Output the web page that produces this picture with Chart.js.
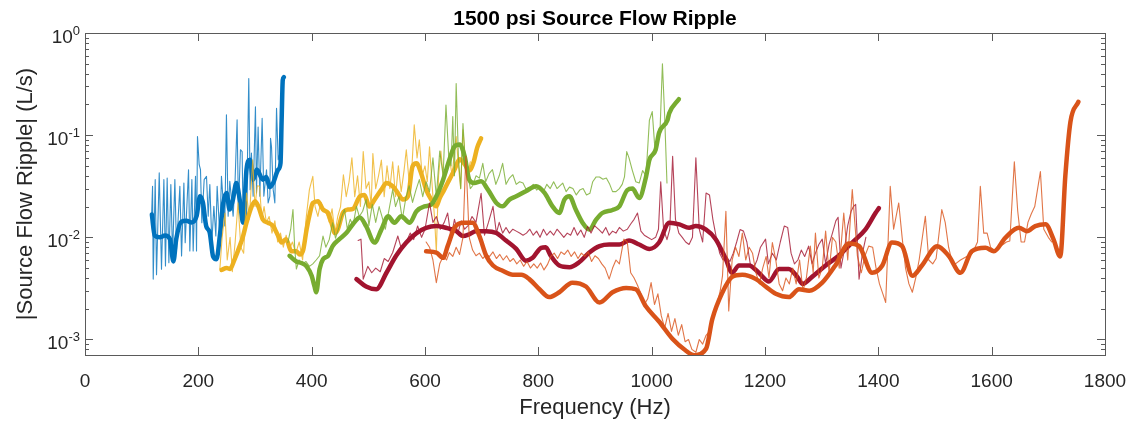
<!DOCTYPE html>
<html>
<head>
<meta charset="utf-8">
<title>1500 psi Source Flow Ripple</title>
<script src="https://cdn.jsdelivr.net/npm/chart.js@4.4.1/dist/chart.umd.min.js"></script>
<style>
  html, body { margin: 0; padding: 0; background: #fff; }
  #wrap { width: 1137px; height: 421px; }
</style>
</head>
<body>
<div id="wrap"><canvas id="rippleChart" width="1137" height="421"></canvas></div>
<script>
// [frequency Hz, |Q| L/s]
const blueThin = [[117.5,0.0161],[119.2,0.0316],[120.4,0.0039],[123.9,0.0367],[126.2,0.0043],[131,0.0427],[135,0.00487],[139.2,0.0367],[142,0.00524],[145,0.0381],[148,0.00565],[151.5,0.0328],[154.5,0.00656],[158.6,0.0367],[161.5,0.0076],[167.4,0.0316],[170.4,0.00656],[174.5,0.034],[176.8,0.00885],[182.7,0.0459],[185,0.00734],[188.6,0.0367],[190.9,0.00734],[195,0.0395],[196.8,0.00734],[198.5,0.097],[201.5,0.0514],[203.8,0.0459],[206.2,0.0139],[210.3,0.0367],[214.4,0.0395],[217.4,0.0161],[220.3,0.0328],[223.8,0.00885],[227.4,0.0201],[230.9,0.0103],[233.2,0.0316],[237.9,0.0103],[240.8,0.0395],[246.7,0.0129],[249.6,0.158],[252.6,0.0161],[255.5,0.0353],[261.4,0.0161],[264.9,0.0367],[268.4,0.141],[270.8,0.0187],[274.3,0.072],[277.3,0.069],[279,0.0149],[282,0.0367],[285,0.0149],[289,0.359],[291.4,0.0293],[293.7,0.0667],[296.7,0.0252],[300.8,0.19],[302.6,0.0272],[305.5,0.12],[308.5,0.0252],[312.6,0.146],[315.6,0.0252],[320.3,0.0459],[323.2,0.0217],[326.2,0.0252],[327.4,0.0934],[329.1,0.0774],[332.1,0.0293],[335,0.0217],[338,0.183],[340.9,0.0574],[343.9,0.0667]];
const blueThick = [[118,0.0167],[123,0.0104],[132,0.010],[141,0.0104],[150,0.0096],[156,0.0058],[161,0.0096],[170,0.0142],[179,0.0145],[188,0.014],[197,0.0162],[203,0.0253],[208,0.022],[214,0.0128],[220,0.0112],[226,0.0065],[232,0.0061],[238,0.0104],[244,0.0218],[250,0.0272],[255,0.0187],[261,0.0234],[267,0.034],[273,0.0234],[279,0.0139],[285,0.046],[291,0.0574],[297,0.0367],[303,0.046],[314,0.0367],[320,0.039],[326,0.031],[332,0.034],[341,0.046],[345,0.053],[347,0.14],[349,0.346],[351,0.37]];

const yellowThin = [[238,0.0049],[242,0.0100],[247,0.0173],[251,0.0060],[256,0.0100],[260,0.0046],[265,0.0090],[270,0.0218],[275,0.0080],[280,0.0070],[285,0.0272],[290,0.0150],[296,0.0574],[300,0.0200],[304,0.0320],[308,0.0316],[312,0.0150],[316,0.0200],[320,0.0140],[325,0.0160],[330,0.0110],[335,0.0145],[340,0.0090],[345,0.0110],[350,0.0080],[355,0.0105],[360,0.0075],[366,0.0090],[372,0.0070],[378,0.0090],[384,0.0060],[390,0.0150],[396,0.0293],[402,0.0395],[406,0.020],[411,0.016],[416,0.022],[421,0.019],[426,0.0170],[431,0.0140],[436,0.0190],[441,0.0110],[446,0.0160],[451,0.0200],[456,0.0410],[461,0.0250],[466,0.0350],[471,0.0600],[476,0.0250],[481,0.0400],[486,0.0200],[491,0.0690],[496,0.0300],[501,0.0350],[505,0.0200],[508,0.0660],[513,0.0300],[518,0.0400],[523,0.0570],[528,0.0250],[533,0.0500],[538,0.0300],[543,0.0550],[548,0.0250],[553,0.0500],[558,0.0280],[563,0.0450],[567,0.0720],[572,0.0350],[577,0.0500],[581,0.1260],[586,0.0600],[590,0.0900],[595,0.0400],[600,0.0500],[604,0.0350],[608,0.0770],[613,0.0300],[617,0.0150],[620,0.0072],[624,0.0400],[628,0.0700],[633,0.0350],[638,0.0500],[643,0.0600],[648,0.0400],[652,0.0700],[655,0.0970],[659,0.0500],[663,0.0300],[667,0.1130],[671,0.0600],[675,0.0400],[680,0.0550]];
const yellowThick = [[241,0.0048],[250,0.0050],[256,0.0049],[264,0.0061],[273,0.0082],[279,0.0103],[285,0.0139],[294,0.020],[300,0.0226],[306,0.020],[314,0.0149],[323,0.0139],[332,0.0129],[341,0.0103],[347,0.0089],[355,0.0096],[364,0.0073],[373,0.0073],[379,0.0068],[385,0.0075],[391,0.0119],[397,0.0173],[402,0.0217],[411,0.0226],[420,0.0187],[429,0.0173],[435,0.0139],[441,0.011],[446,0.0119],[455,0.0173],[464,0.0187],[473,0.019],[485,0.0252],[493,0.026],[502,0.020],[511,0.0234],[523,0.0293],[532,0.034],[543,0.0316],[552,0.0272],[561,0.0234],[570,0.0252],[578,0.0495],[585,0.053],[593,0.0427],[602,0.0293],[611,0.0234],[620,0.0201],[626,0.0243],[634,0.0293],[643,0.0367],[652,0.0459],[661,0.058],[670,0.052],[678,0.045],[686,0.055],[692,0.075],[699,0.093]];

const greenThin = [[358,0.0089],[363,0.012],[367,0.0187],[370,0.008],[373,0.0049],[378,0.006],[383,0.0055],[390,0.0058],[396,0.0052],[402,0.0055],[408,0.0060],[414,0.0066],[420,0.0103],[425,0.008],[431,0.0095],[437,0.0139],[442,0.0098],[448,0.0125],[453,0.0160],[458,0.0187],[463,0.0120],[468,0.0150],[473,0.0130],[479,0.0201],[484,0.016],[490,0.0180],[496,0.0234],[501,0.0130],[507,0.0210],[513,0.0140],[519,0.0200],[524,0.0160],[530,0.0120],[536,0.0180],[543,0.0293],[548,0.0200],[554,0.0250],[560,0.0150],[566,0.0240],[572,0.0320],[578,0.0220],[584,0.0290],[590,0.0367],[596,0.0250],[602,0.0350],[608,0.0280],[614,0.0600],[620,0.0250],[626,0.0700],[632,0.0400],[637,0.1970],[642,0.0600],[646,0.0500],[649,0.1520],[652,0.0400],[655,0.3200],[659,0.0600],[663,0.0300],[667,0.1300],[671,0.0550],[676,0.0400],[680,0.0300],[684,0.0320],[690,0.0400],[696,0.0380],[702,0.0530],[707,0.0350],[713,0.0420],[719,0.0460],[725,0.0330],[731,0.0400],[737,0.0530],[743,0.0330],[749,0.0380],[755,0.0410],[761,0.0330],[767,0.0350],[773,0.0340],[779,0.0290],[785,0.0300],[791,0.0330],[797,0.0290],[803,0.0310],[809,0.0280],[815,0.0330],[821,0.0300],[827,0.0350],[833,0.0300],[837,0.0316],[843,0.0340],[849,0.0280],[855,0.0310],[861,0.0300],[867,0.0260],[873,0.0290],[879,0.0300],[885,0.0260],[891,0.0270],[896,0.0350],[902,0.0390],[908,0.0390],[914,0.0370],[920,0.0380],[926,0.0330],[931,0.0280],[937,0.0280],[943,0.0300],[948,0.0330],[952,0.0390],[956,0.0690],[960,0.0600],[966,0.0450],[972,0.0350],[978,0.0340],[984,0.0450],[990,0.0400],[996,0.1400],[1001,0.1700],[1006,0.0700],[1010,0.0900],[1015,0.1200],[1019,0.5000],[1023,0.1500],[1027,0.0340]];
const greenThick = [[361,0.0066],[373,0.0058],[382,0.0056],[391,0.0052],[400,0.0042],[405,0.0033],[408,0.0029],[414,0.0049],[420,0.0061],[429,0.0066],[437,0.0082],[449,0.0096],[461,0.011],[473,0.0135],[485,0.0156],[496,0.0129],[511,0.0089],[523,0.0119],[535,0.0161],[546,0.0139],[558,0.0161],[573,0.0139],[585,0.018],[599,0.0201],[611,0.0209],[620,0.0252],[632,0.0367],[643,0.0574],[652,0.0774],[661,0.081],[670,0.062],[678,0.0367],[687,0.034],[699,0.0353],[711,0.0293],[726,0.0217],[737,0.0201],[749,0.0234],[761,0.0252],[778,0.0283],[796,0.0316],[811,0.0272],[825,0.0201],[837,0.0173],[846,0.0234],[855,0.0252],[866,0.0187],[878,0.0139],[890,0.0119],[902,0.0149],[913,0.0173],[931,0.0185],[943,0.0201],[957,0.029],[966,0.030],[978,0.0243],[990,0.039],[996,0.0574],[1007,0.072],[1013,0.105],[1028,0.141],[1031,0.164],[1048,0.225]];

const redThin = [[482,0.0093],[487,0.0096],[491,0.0039],[499,0.0052],[506,0.0045],[513,0.0050],[521,0.0046],[528,0.0062],[535,0.0058],[543,0.0071],[552,0.0103],[559,0.0075],[566,0.0088],[574,0.0110],[580,0.0095],[587,0.0129],[594,0.0100],[600,0.0120],[608,0.0217],[614,0.0140],[620,0.0160],[627,0.0120],[634,0.0140],[640,0.0173],[646,0.0100],[652,0.0150],[658,0.0110],[664,0.0145],[670,0.0120],[676,0.0130],[683,0.0160],[690,0.0140],[699,0.0270],[705,0.0105],[712,0.0140],[720,0.0201],[726,0.0110],[731,0.0140],[737,0.0110],[743,0.0125],[749,0.0110],[755,0.0120],[761,0.0115],[767,0.0110],[773,0.0105],[779,0.0110],[785,0.0120],[791,0.0105],[797,0.0115],[803,0.0100],[809,0.0120],[815,0.0105],[821,0.0115],[827,0.0105],[833,0.0120],[839,0.0110],[845,0.0100],[851,0.0110],[857,0.0105],[863,0.0125],[869,0.0105],[875,0.0118],[881,0.0100],[887,0.0128],[893,0.0110],[899,0.0130],[907,0.0119],[913,0.0110],[919,0.0125],[925,0.0105],[931,0.0115],[937,0.0110],[943,0.0125],[950,0.0115],[957,0.0120],[963,0.0135],[969,0.0150],[975,0.0173],[981,0.0115],[987,0.0105],[993,0.0100],[1000,0.0095],[1007,0.0100],[1012,0.0120],[1016,0.0350],[1021,0.0120],[1027,0.0095],[1032,0.0120],[1037,0.0620],[1042,0.0150],[1048,0.0110],[1054,0.0100],[1060,0.0090],[1066,0.0085],[1072,0.0100],[1078,0.0600],[1084,0.0120],[1090,0.0090],[1096,0.0272],[1102,0.0260],[1108,0.0150],[1114,0.0100],[1120,0.0070],[1126,0.0060],[1132,0.0065],[1138,0.0058],[1144,0.0070],[1150,0.0090],[1156,0.0119],[1162,0.0115],[1168,0.0090],[1174,0.0055],[1180,0.0050],[1186,0.0060],[1192,0.0080],[1201,0.0096],[1206,0.0055],[1213,0.0070],[1220,0.0060],[1227,0.0090],[1234,0.0129],[1240,0.0125],[1246,0.0070],[1252,0.0055],[1258,0.0060],[1264,0.0075],[1270,0.0065],[1277,0.0082],[1283,0.0055],[1289,0.0070],[1295,0.0085],[1301,0.0096],[1307,0.0055],[1313,0.0085],[1319,0.0110],[1325,0.0145],[1329,0.0157],[1334,0.0050],[1340,0.0075],[1346,0.0130],[1352,0.0180],[1356,0.0200],[1360,0.0210],[1366,0.0039],[1372,0.0070],[1378,0.0100]];
const redThick = [[479,0.0039],[496,0.0033],[514,0.0031],[532,0.0045],[549,0.0066],[567,0.0089],[585,0.011],[602,0.0124],[620,0.0129],[637,0.0124],[655,0.0115],[667,0.0103],[678,0.0107],[690,0.0115],[708,0.0115],[726,0.011],[743,0.0093],[761,0.0077],[778,0.0059],[790,0.0063],[805,0.0079],[813,0.008],[822,0.0066],[837,0.0053],[855,0.0051],[872,0.0057],[890,0.0071],[908,0.0082],[925,0.0085],[943,0.0085],[960,0.0093],[978,0.0085],[996,0.0077],[1013,0.0089],[1031,0.0139],[1049,0.0134],[1066,0.0124],[1078,0.0129],[1096,0.0119],[1113,0.0096],[1131,0.0061],[1142,0.0045],[1154,0.0053],[1172,0.0053],[1189,0.0045],[1207,0.0037],[1225,0.0049],[1242,0.0049],[1257,0.0041],[1266,0.0035],[1283,0.0041],[1307,0.0053],[1330,0.0066],[1354,0.0089],[1377,0.0119],[1395,0.0173],[1401,0.0193]];

const orangeThin = [[602,0.0090],[608,0.0080],[614,0.0060],[620,0.0036],[626,0.0055],[632,0.0065],[638,0.0060],[643,0.0071],[649,0.0065],[655,0.0080],[661,0.0068],[667,0.0100],[672,0.0620],[678,0.0100],[684,0.0075],[690,0.0066],[696,0.0070],[702,0.0062],[708,0.0068],[714,0.0065],[720,0.0072],[726,0.0062],[732,0.0068],[738,0.0060],[744,0.0066],[750,0.0058],[756,0.0062],[762,0.0055],[768,0.0060],[774,0.0052],[780,0.0058],[786,0.0050],[792,0.0055],[798,0.0050],[804,0.0056],[810,0.0048],[816,0.0054],[822,0.0065],[828,0.0070],[834,0.0062],[840,0.0072],[846,0.0068],[852,0.0075],[858,0.0065],[864,0.0072],[870,0.0062],[876,0.0070],[882,0.0065],[888,0.0072],[894,0.0058],[900,0.0066],[906,0.0062],[912,0.0055],[918,0.0050],[925,0.0039],[931,0.0050],[937,0.0060],[943,0.0055],[951,0.0096],[957,0.0090],[963,0.0045],[969,0.0040],[975,0.0034],[981,0.0028],[987,0.0022],[993,0.0025],[999,0.0036],[1005,0.0022],[1011,0.0028],[1017,0.0017],[1023,0.0013],[1029,0.0018],[1035,0.0012],[1041,0.0016],[1047,0.0011],[1053,0.0014],[1059,0.00095],[1065,0.0010],[1071,0.0008],[1078,0.00075],[1084,0.0010],[1090,0.0009],[1096,0.0011],[1102,0.0012],[1107,0.0015],[1112,0.0020],[1116,0.0023],[1121,0.0030],[1125,0.0042],[1131,0.0180],[1136,0.0019],[1142,0.0060],[1148,0.0080],[1154,0.0065],[1160,0.0110],[1166,0.0060],[1172,0.0080],[1178,0.0070],[1184,0.0045],[1190,0.0035],[1196,0.0050],[1202,0.0065],[1207,0.0040],[1213,0.0089],[1219,0.0060],[1225,0.0035],[1231,0.0030],[1237,0.0040],[1243,0.0035],[1249,0.0050],[1255,0.0035],[1261,0.0060],[1267,0.0030],[1273,0.0040],[1280,0.0082],[1285,0.0045],[1289,0.0110],[1295,0.0040],[1301,0.0050],[1307,0.0115],[1313,0.0045],[1319,0.0100],[1325,0.0090],[1331,0.0050],[1339,0.0173],[1346,0.0060],[1354,0.0293],[1363,0.0066],[1370,0.0045],[1376,0.0065],[1383,0.0082],[1390,0.0080],[1396,0.0050],[1402,0.0035],[1408,0.0028],[1413,0.0023],[1421,0.0316],[1427,0.0120],[1436,0.0217],[1442,0.0100],[1448,0.0050],[1454,0.0035],[1460,0.0029],[1466,0.0040],[1472,0.0060],[1483,0.0161],[1489,0.0060],[1496,0.0055],[1502,0.0062],[1512,0.0187],[1518,0.0140],[1524,0.0080],[1530,0.0058],[1536,0.0055],[1545,0.0060],[1556,0.0065],[1566,0.0070],[1575,0.0090],[1580,0.0316],[1586,0.0110],[1592,0.0110],[1598,0.0080],[1604,0.0075],[1612,0.0080],[1620,0.0085],[1626,0.0090],[1632,0.0092],[1640,0.0550],[1646,0.0180],[1652,0.0090],[1658,0.0090],[1664,0.0140],[1670,0.0170],[1676,0.0200],[1686,0.0440],[1692,0.0120],[1700,0.0100],[1706,0.0090]];
const orangeThick = [[602,0.0073],[620,0.0071],[632,0.0063],[640,0.0082],[652,0.0124],[667,0.0139],[684,0.0139],[696,0.0103],[708,0.0066],[720,0.0053],[737,0.0047],[755,0.0043],[770,0.0043],[784,0.0039],[802,0.0031],[819,0.0026],[837,0.0029],[860,0.0036],[884,0.0033],[908,0.0023],[931,0.0029],[955,0.0032],[972,0.0031],[990,0.0021],[1013,0.0015],[1037,0.00101],[1060,0.00078],[1075,0.0007],[1096,0.00081],[1107,0.00158],[1125,0.0029],[1142,0.0041],[1160,0.0043],[1184,0.0039],[1201,0.0033],[1219,0.0028],[1242,0.0026],[1260,0.0031],[1278,0.003],[1301,0.0036],[1325,0.0054],[1348,0.0087],[1366,0.0082],[1389,0.0045],[1407,0.0053],[1424,0.0089],[1442,0.0082],[1460,0.0042],[1477,0.0053],[1504,0.0082],[1524,0.0066],[1545,0.0045],[1565,0.0073],[1589,0.0079],[1604,0.0073],[1624,0.0099],[1648,0.0124],[1662,0.0115],[1677,0.0129],[1695,0.0134],[1709,0.0096],[1721,0.0065],[1730,0.040],[1739,0.135],[1753,0.212]];

const xTicks = [0, 200, 400, 600, 800, 1000, 1200, 1400, 1600, 1800];
const yTicks = [1e-3, 1e-2, 1e-1, 1];
const yTickExps = ["-3", "-2", "-1", "0"];
const xRange = [0, 1800];
const yRange = [7.05e-4, 1];

const TEXT = "#262626";
const FONT = "'Liberation Sans', Arial, Helvetica, sans-serif";

function toXY(pairs) {
  return pairs.map(([f, q]) => ({ x: f, y: q }));
}

function lineSet(label, pairs, color, width, order, smooth) {
  return {
    label,
    data: toXY(pairs),
    borderColor: color,
    borderWidth: width,
    pointRadius: 0,
    tension: smooth ? 0.4 : 0,
    cubicInterpolationMode: smooth ? "monotone" : "default",
    fill: false,
    borderJoinStyle: "round",
    borderCapStyle: "round",
    order,
  };
}

// MATLAB-style box with inward ticks and 10^n labels
const axisFrame = {
  id: "axisFrame",
  afterDatasetsDraw(chart) {
    const { ctx, chartArea: a, scales } = chart;
    const x = scales.x;
    const y = scales.y;
    ctx.save();
    ctx.strokeStyle = "#5a5a5a";
    ctx.lineWidth = 1;
    ctx.strokeRect(a.left + 0.5, a.top + 0.5, a.right - a.left, a.bottom - a.top);

    ctx.beginPath();
    xTicks.forEach((v) => {
      const px = Math.round(x.getPixelForValue(v)) + 0.5;
      ctx.moveTo(px, a.bottom);
      ctx.lineTo(px, a.bottom - 8);
      ctx.moveTo(px, a.top);
      ctx.lineTo(px, a.top + 8);
    });
    for (let d = -4; d <= 0; d++) {
      for (let m = 1; m <= 9; m++) {
        const v = m * Math.pow(10, d);
        if (v < yRange[0] || v > yRange[1]) continue;
        const py = Math.round(y.getPixelForValue(v)) + 0.5;
        const len = m === 1 ? 8 : 4;
        ctx.moveTo(a.left, py);
        ctx.lineTo(a.left + len, py);
        ctx.moveTo(a.right, py);
        ctx.lineTo(a.right - len, py);
      }
    }
    ctx.stroke();

    ctx.fillStyle = TEXT;
    ctx.font = `19px ${FONT}`;
    ctx.textAlign = "center";
    ctx.textBaseline = "alphabetic";
    xTicks.forEach((v) => {
      ctx.fillText(String(v), x.getPixelForValue(v), a.bottom + 32);
    });

    yTicks.forEach((v, i) => {
      const py = y.getPixelForValue(v);
      ctx.font = `13px ${FONT}`;
      const expW = ctx.measureText(yTickExps[i]).width;
      ctx.textAlign = "right";
      ctx.fillText(yTickExps[i], a.left - 5, py + 2);
      ctx.font = `19px ${FONT}`;
      ctx.fillText("10", a.left - 5 - expW, py + 10);
    });

    ctx.font = `22px ${FONT}`;
    ctx.textAlign = "center";
    ctx.fillText("Frequency (Hz)", (a.left + a.right) / 2, 414);

    ctx.save();
    ctx.translate(26, (a.top + a.bottom) / 2);
    ctx.rotate(-Math.PI / 2);
    ctx.textBaseline = "middle";
    ctx.fillText("|Source Flow Ripple| (L/s)", 0, 0);
    ctx.restore();

    ctx.font = `bold 21px ${FONT}`;
    ctx.textAlign = "center";
    ctx.fillStyle = "#000";
    ctx.fillText("1500 psi Source Flow Ripple", (a.left + a.right) / 2, 25);
    ctx.restore();
  },
};

function build() {
  const ctx = document.getElementById("rippleChart").getContext("2d");
  new Chart(ctx, {
    type: "line",
    data: {
      datasets: [
        lineSet("blue raw", blueThin, "rgba(0, 114, 189, 0.8)", 1.1, 10, false),
        lineSet("blue smooth", blueThick, "#0072BD", 4.5, 9, true),
        lineSet("yellow raw", yellowThin, "rgba(237, 177, 32, 0.8)", 1.1, 8, false),
        lineSet("yellow smooth", yellowThick, "#EDB120", 4.5, 7, true),
        lineSet("green raw", greenThin, "rgba(119, 172, 48, 0.8)", 1.1, 6, false),
        lineSet("green smooth", greenThick, "#77AC30", 4.5, 5, true),
        lineSet("red raw", redThin, "rgba(162, 20, 47, 0.8)", 1.1, 4, false),
        lineSet("red smooth", redThick, "#A2142F", 4.5, 3, true),
        lineSet("orange raw", orangeThin, "rgba(217, 83, 25, 0.8)", 1.1, 2, false),
        lineSet("orange smooth", orangeThick, "#D95319", 4.5, 1, true),
      ],
    },
    options: {
      responsive: false,
      animation: false,
      layout: { padding: { left: 85, right: 32, top: 33, bottom: 66 } },
      scales: {
        x: { type: "linear", display: false, min: xRange[0], max: xRange[1] },
        y: { type: "logarithmic", display: false, min: yRange[0], max: yRange[1] },
      },
      plugins: {
        legend: { display: false },
        tooltip: { enabled: false },
        title: { display: false },
      },
    },
    plugins: [axisFrame],
  });
}

window.addEventListener("DOMContentLoaded", build);
</script>
</body>
</html>
